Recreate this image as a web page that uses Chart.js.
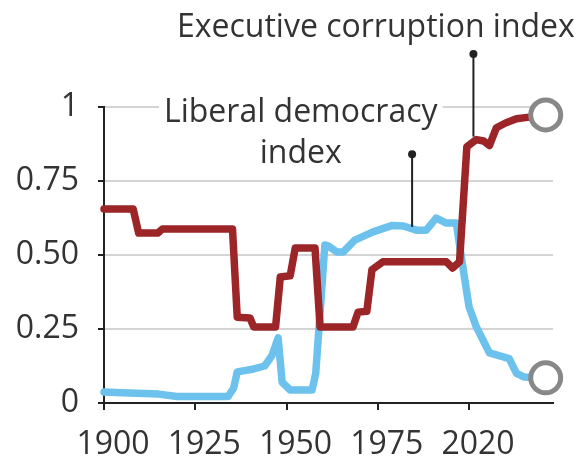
<!DOCTYPE html>
<html>
<head>
<meta charset="utf-8">
<script src="https://cdn.jsdelivr.net/npm/chart.js@4.4.1/dist/chart.umd.min.js"></script>
<style>
  html, body { margin: 0; padding: 0; background: #fff; }
  #wrap { width: 583px; height: 464px; }
</style>
</head>
<body>
<div id="wrap"><canvas id="c" width="583" height="464"></canvas></div>
<script>
// ---- Data ----
const corruptionYears  = [1900, 1908, 1909.5, 1914.7, 1916, 1935.2, 1936.5, 1940, 1941, 1947, 1948.3, 1951, 1952.4, 1957.8, 1959.2, 1968.2, 1969.6, 1972, 1973.4, 1976.4, 1993.8, 1995.5, 1997.4, 1999.4, 2002, 2004, 2005.6, 2007.5, 2010, 2013, 2016, 2021];
const corruptionValues = [0.655, 0.655, 0.574, 0.574, 0.588, 0.588, 0.29, 0.287, 0.257, 0.257, 0.426, 0.43, 0.524, 0.524, 0.257, 0.257, 0.307, 0.31, 0.45, 0.477, 0.477, 0.456, 0.477, 0.866, 0.89, 0.885, 0.87, 0.93, 0.946, 0.96, 0.965, 0.973];

const democracyYears  = [1900, 1905, 1915, 1920, 1934, 1935.5, 1936.5, 1941, 1944, 1946, 1947.7, 1948.8, 1951, 1957, 1958, 1960.5, 1961.5, 1963.8, 1965.5, 1968.7, 1973.7, 1979, 1982, 1985.6, 1988.3, 1991, 1993.8, 1996.5, 1998.3, 2000, 2002, 2005.6, 2011, 2013, 2015, 2021];
const democracyValues = [0.037, 0.035, 0.03, 0.022, 0.022, 0.05, 0.105, 0.115, 0.125, 0.16, 0.22, 0.07, 0.044, 0.044, 0.1, 0.534, 0.53, 0.51, 0.51, 0.55, 0.578, 0.60, 0.598, 0.584, 0.584, 0.625, 0.608, 0.608, 0.46, 0.325, 0.257, 0.169, 0.15, 0.10, 0.088, 0.085];

const xTickValues = [1900, 1925, 1950, 1975, 2000];
const xTickLabels = ["1900", "1925", "1950", "1975", "2020"];
const yTickValues = [0, 0.25, 0.5, 0.75, 1];
const yTickLabels = ["0", "0.25", "0.50", "0.75", "1"];

const corruptionLabel = "Executive corruption index";
const democracyLabel = ["Liberal democracy", "index"];

// ---- Styles ----
const RED = '#9c2528';
const BLUE = '#6cc2ec';
const TEXT = '#333333';
const FONT = '"Open Sans", "Noto Sans", sans-serif';
const FSIZE = 32;

function toPoints(xs, ys) { return xs.map((x, i) => ({ x: x, y: ys[i] })); }

function endMarker(ctx) {
  return ctx.dataIndex === ctx.dataset.data.length - 1 ? 15 : 0;
}

const annotationPlugin = {
  id: 'annot',
  afterDraw(chart) {
    const ctx = chart.ctx;
    const xs = chart.scales.x, ys = chart.scales.y;
    ctx.save();
    ctx.font = FSIZE + 'px ' + FONT;
    ctx.fillStyle = TEXT;
    ctx.textBaseline = 'alphabetic';

    // Executive corruption label
    ctx.textAlign = 'left';
    ctx.fillText(corruptionLabel, xs.getPixelForValue(1920), 37);
    // leader line
    const cx = xs.getPixelForValue(2001.2);
    ctx.strokeStyle = '#222';
    ctx.fillStyle = '#222';
    ctx.lineWidth = 2;
    ctx.beginPath();
    ctx.moveTo(cx, 54);
    ctx.lineTo(cx, ys.getPixelForValue(0.9));
    ctx.stroke();
    ctx.beginPath(); ctx.arc(cx, 54, 4, 0, Math.PI * 2); ctx.fill();

    // Liberal democracy label with white background
    ctx.textAlign = 'center';
    const lx = xs.getPixelForValue(1953.9);
    const base1 = 122, base2 = 163;
    const w1 = ctx.measureText(democracyLabel[0]).width;
    ctx.fillStyle = '#fff';
    ctx.fillRect(lx - w1 / 2 - 5, base1 - 28, w1 + 10, 36);
    ctx.fillStyle = TEXT;
    ctx.fillText(democracyLabel[0], lx, base1);
    ctx.fillText(democracyLabel[1], lx, base2);
    const dx = xs.getPixelForValue(1984.4);
    const dTop = ys.getPixelForValue(0.84);
    ctx.fillStyle = '#222';
    ctx.beginPath();
    ctx.moveTo(dx, dTop);
    ctx.lineTo(dx, ys.getPixelForValue(0.595));
    ctx.stroke();
    ctx.beginPath(); ctx.arc(dx, dTop, 4, 0, Math.PI * 2); ctx.fill();
    ctx.restore();
  }
};

new Chart(document.getElementById('c'), {
  type: 'line',
  data: {
    datasets: [
      {
        label: 'Executive corruption index',
        data: toPoints(corruptionYears, corruptionValues),
        borderColor: RED,
        borderWidth: 7.5,
        borderCapStyle: 'round',
        borderJoinStyle: 'round',
        tension: 0,
        pointRadius: endMarker,
        pointHoverRadius: endMarker,
        pointBackgroundColor: '#fff',
        pointBorderColor: '#888888',
        pointBorderWidth: 5,
        clip: false
      },
      {
        label: 'Liberal democracy index',
        data: toPoints(democracyYears, democracyValues),
        borderColor: BLUE,
        borderWidth: 7.5,
        borderCapStyle: 'round',
        borderJoinStyle: 'round',
        tension: 0,
        pointRadius: endMarker,
        pointHoverRadius: endMarker,
        pointBackgroundColor: '#fff',
        pointBorderColor: '#888888',
        pointBorderWidth: 5,
        clip: false
      }
    ]
  },
  options: {
    responsive: false,
    devicePixelRatio: 1,
    animation: false,
    events: [],
    layout: { padding: { top: 107, right: 30, left: 0, bottom: 0 } },
    plugins: { legend: { display: false }, tooltip: { enabled: false } },
    scales: {
      x: {
        type: 'linear',
        min: 1900,
        max: 2023,
        afterFit(scale) { scale.height = 61; },
        afterBuildTicks(scale) { scale.ticks = xTickValues.map(v => ({ value: v })); },
        ticks: {
          callback: (v) => { const i = xTickValues.indexOf(v); return i >= 0 ? xTickLabels[i] : ''; },
          color: TEXT,
          font: { family: FONT, size: FSIZE },
          padding: 16,
          labelOffset: 9,
          maxRotation: 0,
          autoSkip: false
        },
        grid: { display: true, drawOnChartArea: false, drawTicks: true, tickLength: 7, color: '#222', tickColor: '#222', lineWidth: 2 },
        border: { display: true, color: '#222', width: 2 }
      },
      y: {
        type: 'linear',
        min: 0,
        max: 1,
        afterFit(scale) { scale.width = 104; },
        afterBuildTicks(scale) { scale.ticks = yTickValues.map(v => ({ value: v })); },
        ticks: {
          callback: (v) => { const i = yTickValues.indexOf(v); return i >= 0 ? yTickLabels[i] : ''; },
          color: TEXT,
          font: { family: FONT, size: FSIZE },
          padding: 19,
          autoSkip: false
        },
        grid: { display: true, drawTicks: true, tickLength: 6, color: '#d4d4d4', tickColor: '#222', lineWidth: 2 },
        border: { display: true, color: '#222', width: 2 }
      }
    }
  },
  plugins: [annotationPlugin]
});
</script>
</body>
</html>
